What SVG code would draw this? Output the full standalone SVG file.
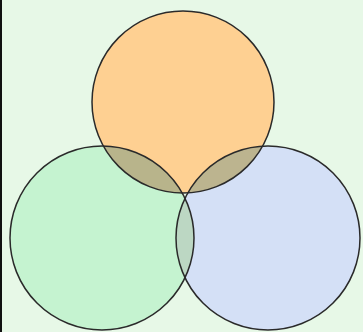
<svg xmlns="http://www.w3.org/2000/svg" width="363" height="332" viewBox="0 0 363 332">
<style>
.c{stroke:#2a2a2a;stroke-width:1.5}
</style>
<defs>
<clipPath id="cpTop"><circle cx="183" cy="102" r="91"/></clipPath>
<clipPath id="cpLeft"><circle cx="102" cy="238" r="92"/></clipPath>
</defs>
<rect x="0" y="0" width="363" height="332" fill="#e7f8e7"/>
<rect x="0" y="0" width="2" height="332" fill="#111"/>
<g id="left"><circle cx="102" cy="238" r="92" fill="#c5f3d0"/></g>
<g id="right"><circle cx="268" cy="238" r="92" fill="#d4e0f6"/></g>
<g id="top"><circle cx="183" cy="102" r="91" fill="#fed092"/></g>
<g id="overlaps">
<circle cx="102" cy="238" r="92" fill="#b8b48b" clip-path="url(#cpTop)"/>
<circle cx="268" cy="238" r="92" fill="#bcb48f" clip-path="url(#cpTop)"/>
<circle cx="268" cy="238" r="92" fill="#bcd7c3" clip-path="url(#cpLeft)"/>
</g>
<g id="outlines" fill="none">
<circle class="c" cx="102" cy="238" r="92"/>
<circle class="c" cx="268" cy="238" r="92"/>
<circle class="c" cx="183" cy="102" r="91"/>
</g>
</svg>
